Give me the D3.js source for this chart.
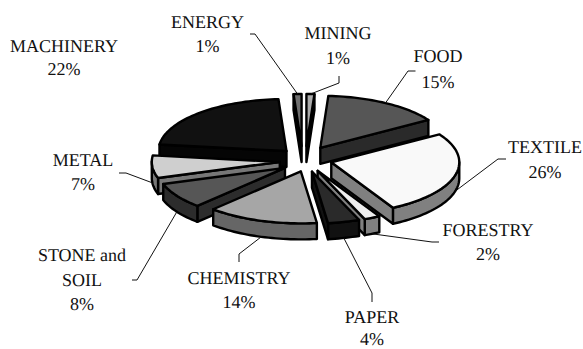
<!DOCTYPE html>
<html>
<head>
<meta charset="utf-8">
<script src="https://cdn.jsdelivr.net/npm/d3@7"></script>
<style>
  html, body { margin: 0; padding: 0; background: #fff; overflow: hidden; }
  text { font-family: "Liberation Serif", serif; font-size: 18px; fill: #111; text-rendering: geometricPrecision; }
</style>
</head>
<body>
<svg id="chart" width="583" height="349"></svg>
<script>
// Industry shares, clockwise from the top of the pie
const categories = ["ENERGY", "MINING", "FOOD", "TEXTILE", "FORESTRY", "PAPER", "CHEMISTRY", "STONE and SOIL", "METAL", "MACHINERY"];
const shares = [1, 1, 15, 26, 2, 4, 14, 8, 7, 22];
const topColors = ["#707070", "#ababab", "#565656", "#f9f9f9", "#eeeeee", "#2a2a2a", "#a6a6a6", "#565656", "#cfcfcf", "#111111"];
const sideColors = ["#111111", "#111111", "#2a2a2a", "#808080", "#808080", "#111111", "#666666", "#2c2c2c", "#777777", "#050505"];

// Pie projection
const cx = 304, cy = 159, rx = 128, ry = 52, depth = 16;
// How far each slice is pulled out, horizontally and vertically, in radii
const explodeX = [0.6, 0.6, 0.25, 0.22, 0.25, 0.25, 0.08, 0.176, 0.19, 0.2];
const explodeY = [0.25, 0.25, 0.25, 0.25, 0.25, 0.25, 0.25, 0.32, 0.6, 0.21];

// Label placement: text centre, baselines, and the elbow of each leader line
const labelLayout = [
  { x: 207.5, y: [28, 52], leader: [[250, 34], [255, 34]] },
  { x: 338, y: [39, 64], leader: [[339, 76], [339, 83]] },
  { x: 438, y: [62, 88], leader: [[415.5, 71], [408, 71]] },
  { x: 545, y: [153, 178], leader: [[506, 159], [498, 159]] },
  { x: 488, y: [236, 260], leader: [[439, 242], [432, 242]] },
  { x: 372, y: [323, 345], leader: [[372, 302], [372, 293]] },
  { x: 239, y: [284, 308], leader: [[239, 262], [239, 254]] },
  { x: 82, y: [261, 286, 310], leader: [[132, 280], [137, 280]] },
  { x: 83, y: [166, 190], leader: [[119, 173], [126, 173]] },
  { x: 64, y: [52, 75], leader: null }
];
const labelLines = [["ENERGY"], ["MINING"], ["FOOD"], ["TEXTILE"], ["FORESTRY"], ["PAPER"], ["CHEMISTRY"], ["STONE and", "SOIL"], ["METAL"], ["MACHINERY"]];

const xScale = d3.scaleLinear().domain([-1, 1]).range([cx - rx, cx + rx]);
const yScale = d3.scaleLinear().domain([-1, 1]).range([cy + ry, cy - ry]);

const fullTurn = 2 * Math.PI;
const firstAngle = -fullTurn * (shares[0] + shares[1]) / 2 / d3.sum(shares);
const pie = d3.pie().sort(null).startAngle(firstAngle).endAngle(firstAngle + fullTurn);

const project = (angle, radius, e) => [
  xScale(radius * Math.sin(angle) + e.ex * Math.sin(e.mid)),
  yScale(radius * Math.cos(angle) + e.ey * Math.cos(e.mid))
];

const slices = pie(shares).map((p, i) => {
  const e = { mid: (p.startAngle + p.endAngle) / 2, ex: explodeX[i], ey: explodeY[i] };
  const steps = Math.max(4, Math.ceil((p.endAngle - p.startAngle) / 0.03));
  const arc = d3.range(steps + 1).map(k => project(p.startAngle + (p.endAngle - p.startAngle) * k / steps, 1, e));
  return { i, tip: project(0, 0, e), arc, mid: e.mid, outer: project(e.mid, 1, e) };
});

const svg = d3.select("#chart");
const line = d3.line();
const closed = pts => line(pts) + "Z";

// Walls that face the viewer, split into runs along each face of the slice
function wallRuns(s) {
  const faces = [
    [s.tip, s.arc[0]],
    s.arc,
    [s.arc[s.arc.length - 1], s.tip]
  ];
  const runs = [];
  faces.forEach(face => {
    let run = null;
    d3.pairs(face).forEach(([a, b]) => {
      if (b[0] - a[0] < 0) {
        if (!run) { run = [a]; runs.push(run); }
        run.push(b);
      } else {
        run = null;
      }
    });
  });
  return runs;
}

// Back slices first so nearer ones paint over them
const drawOrder = slices.slice().sort((a, b) => d3.descending(Math.cos(a.mid), Math.cos(b.mid)));
const gSlices = svg.append("g")
  .attr("stroke", "#000").attr("stroke-width", 2.4).attr("stroke-linejoin", "round");

drawOrder.forEach(s => {
  const g = gSlices.append("g");
  g.selectAll("path.wall").data(wallRuns(s)).join("path")
    .attr("class", "wall")
    .attr("fill", sideColors[s.i])
    .attr("d", run => closed(run.concat(run.slice().reverse().map(([x, y]) => [x, y + depth]))));
  g.append("path")
    .attr("fill", topColors[s.i])
    .attr("d", closed([s.tip].concat(s.arc)));
});

// Leader lines run from the slice rim to the elbow beside the label
const leaders = svg.append("g").attr("fill", "none").attr("stroke", "#111").attr("stroke-width", 1);
slices.forEach(s => {
  const layout = labelLayout[s.i];
  if (!layout.leader) return;
  const front = Math.cos(s.mid) < 0.2;
  const anchor = [s.outer[0], s.outer[1] + (front ? depth : 0)];
  leaders.append("path").attr("d", line(layout.leader.concat([anchor])));
});

// Labels: name lines followed by the percentage
const labels = svg.append("g").attr("text-anchor", "middle");
slices.forEach(s => {
  const layout = labelLayout[s.i];
  const rows = labelLines[s.i].concat([shares[s.i] + "%"]);
  rows.forEach((row, k) => {
    labels.append("text").attr("x", layout.x).attr("y", layout.y[k]).text(row);
  });
});
</script>
</body>
</html>
